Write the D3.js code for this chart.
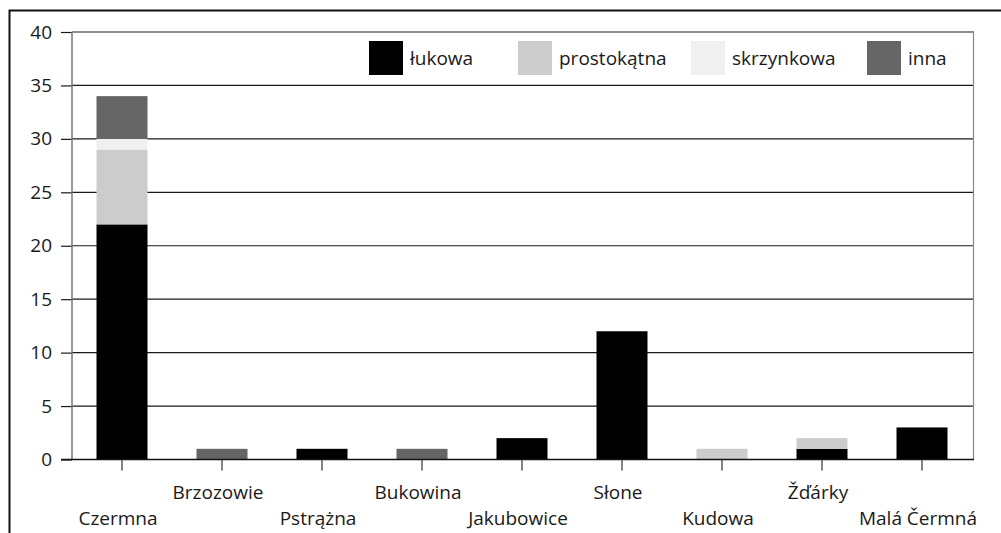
<!DOCTYPE html>
<html><head><meta charset="utf-8">
<script src="https://cdn.jsdelivr.net/npm/d3@7"></script>
<style>body{margin:0;background:#fff}svg{display:block}text{font-family:"Open Sans",sans-serif;fill:#1a1a1a}</style>
</head><body><svg id="c" width="1001" height="533"></svg>
<script>
const categories = ["Czermna","Brzozowie","Pstrążna","Bukowina","Jakubowice","Słone","Kudowa","Žďárky","Malá Čermná"];
const seriesNames = ["łukowa","prostokątna","skrzynkowa","inna"];
const lukowa      = [22,0,1,0,2,12,0,1,3];
const prostokatna = [7,0,0,0,0,0,1,1,0];
const skrzynkowa  = [1,0,0,0,0,0,0,0,0];
const inna        = [4,1,0,1,0,0,0,0,0];
const yTicks = [0,5,10,15,20,25,30,35,40];
const colors = ["#000000","#cccccc","#f0f0f0","#666666"];

const rows = categories.map((c,i)=>({cat:c,"łukowa":lukowa[i],"prostokątna":prostokatna[i],"skrzynkowa":skrzynkowa[i],"inna":inna[i]}));
const stack = d3.stack().keys(seriesNames)(rows);

const svg = d3.select("#c");
const L=72, R=972, T=32, B=459.5;
const x = d3.scaleBand().domain(categories).range([L,R]).paddingInner(0.49).paddingOuter(0.245);
const y = d3.scaleLinear().domain([0,40]).range([B,T]);

// outer frame
svg.append("path").attr("d","M9.5,540 V10.5 H1010").attr("fill","none").attr("stroke","#111").attr("stroke-width",2);

// gridlines + y ticks
const gy = svg.append("g").attr("transform",`translate(${L},0)`)
  .call(d3.axisLeft(y).tickValues(yTicks).tickSize(11).tickPadding(9).tickFormat(d3.format("d")));
gy.select(".domain").remove();
gy.selectAll(".tick line").attr("stroke","#1a1a1a").attr("stroke-width",1.2);
gy.selectAll(".tick text").attr("font-size",19).attr("font-family","Open Sans").attr("fill","#1a1a1a");
svg.append("g").selectAll("line").data(yTicks).join("line")
  .attr("x1",L).attr("x2",974).attr("y1",d=>y(d)).attr("y2",d=>y(d))
  .attr("stroke","#1a1a1a").attr("stroke-width",1.2);
// axis vertical line & right border
svg.append("line").attr("x1",L).attr("x2",L).attr("y1",T).attr("y2",B).attr("stroke","#777").attr("stroke-width",1.5);
svg.append("line").attr("x1",973.5).attr("x2",973.5).attr("y1",T).attr("y2",B).attr("stroke","#888").attr("stroke-width",1.2);

// bars
svg.append("g").selectAll("g").data(stack).join("g").attr("fill",(d,i)=>colors[i])
  .selectAll("rect").data(d=>d.filter(s=>s[1]-s[0]>0)).join("rect")
  .attr("x",d=>x(d.data.cat)).attr("width",x.bandwidth())
  .attr("y",d=>y(d[1])).attr("height",d=>y(d[0])-y(d[1]));

// baseline
svg.append("line").attr("x1",61).attr("x2",974).attr("y1",B).attr("y2",B).attr("stroke","#111").attr("stroke-width",1.5);

// x ticks & labels
const gx = svg.append("g").attr("transform",`translate(0,${B})`)
  .call(d3.axisBottom(x).tickSize(11).tickPadding(0));
gx.select(".domain").remove();
gx.selectAll(".tick line").attr("stroke","#333").attr("stroke-width",1.2);
gx.selectAll(".tick text").attr("font-size",19).attr("font-family","Open Sans").attr("fill","#1a1a1a")
  .attr("dy",null).attr("x",-4).attr("y",(d,i)=> i%2===0 ? 65 : 39);

// legend
const lx = [369,518,691,867];
const lg = svg.append("g").selectAll("g").data(seriesNames).join("g")
  .attr("transform",(d,i)=>`translate(${lx[i]},41)`);
lg.append("rect").attr("width",34).attr("height",34).attr("fill",(d,i)=>colors[i]);
lg.append("text").attr("x",41).attr("y",24).attr("font-size",19).text(d=>d);
</script></body></html>
